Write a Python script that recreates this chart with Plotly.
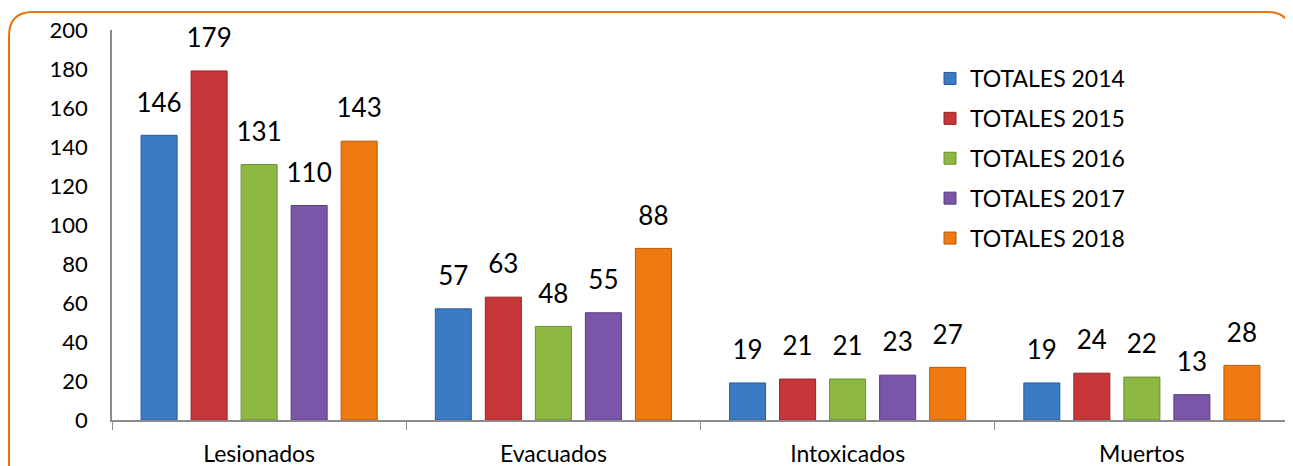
import plotly.graph_objects as go

categorias = ['Lesionados', 'Evacuados', 'Intoxicados', 'Muertos']
series = ['TOTALES 2014', 'TOTALES 2015', 'TOTALES 2016', 'TOTALES 2017', 'TOTALES 2018']
totales_2014 = [146, 57, 19, 19]
totales_2015 = [179, 63, 21, 24]
totales_2016 = [131, 48, 21, 22]
totales_2017 = [110, 55, 23, 13]
totales_2018 = [143, 88, 27, 28]
valores = [totales_2014, totales_2015, totales_2016, totales_2017, totales_2018]

colores = ['#3B7BC6', '#C7373A', '#8DB842', '#7A55A8', '#F07A12']
bordes = ['#2A5C96', '#922628', '#6A8E2E', '#5A3D80', '#B85A08']

# the page puts the figure 8px from the top-left corner, so work in shifted pixels
OFF = 8
W, H = 1293 - OFF, 466 - OFF
L, R, T, B = 112 - OFF, 4, 30 - OFF, 46
PW, PH = W - L - R, H - T - B


def xp(px):
    return (px - OFF - L) / PW


def yp(py):
    return (H - B - (py - OFF)) / PH


fig = go.Figure()
for i, nombre in enumerate(series):
    fig.add_trace(go.Bar(
        x=categorias,
        y=valores[i],
        name=nombre,
        legendgroup=nombre,
        offsetgroup=str(i),
        marker=dict(color=colores[i], line=dict(color=bordes[i], width=1)),
    ))
# etiquetas de valor, agrupadas igual que las barras
for i, nombre in enumerate(series):
    fig.add_trace(go.Scatter(
        x=categorias,
        y=valores[i],
        mode='markers+text',
        text=valores[i],
        textposition='top center',
        textfont=dict(size=26, color='black'),
        marker=dict(size=26, opacity=0),
        offsetgroup=str(i),
        showlegend=False,
        hoverinfo='skip',
        cliponaxis=False,
    ))

# marco naranja redondeado
x0, x1, y0, y1, r = 9, 1291, 12, 490, 24
borde = (f'M {xp(x0)},{yp(y1)} L {xp(x0)},{yp(y0 + r)} '
         f'Q {xp(x0)},{yp(y0)} {xp(x0 + r)},{yp(y0)} '
         f'L {xp(x1 - r)},{yp(y0)} '
         f'Q {xp(x1)},{yp(y0)} {xp(x1)},{yp(y0 + r)} '
         f'L {xp(x1)},{yp(y1)}')

fig.update_layout(
    width=W, height=H,
    margin=dict(l=L, r=R, t=T, b=B),
    paper_bgcolor='white',
    plot_bgcolor='white',
    font=dict(family='Lato, Carlito, sans-serif', color='black', size=22),
    barmode='group',
    bargap=0.15,
    bargroupgap=0.28,
    scattermode='group',
    scattergap=0.15,
    showlegend=True,
    legend=dict(
        x=xp(930), y=yp(57), xanchor='left', yanchor='top',
        font=dict(size=23), tracegroupgap=7, itemwidth=30,
        bgcolor='rgba(0,0,0,0)',
    ),
    shapes=[dict(type='path', xref='paper', yref='paper', path=borde,
                 line=dict(color='#E8720C', width=2), layer='above')],
    xaxis=dict(
        showline=True, linecolor='#8C8C8C', linewidth=1.5,
        ticks='outside', tickson='boundaries', ticklen=8, tickcolor='#8C8C8C',
        tickfont=dict(size=23), ticklabelstandoff=13,
        showgrid=False, automargin=False,
    ),
    yaxis=dict(
        range=[0, 200], dtick=20,
        showline=True, linecolor='#8C8C8C', linewidth=1.5,
        ticks='', showgrid=False, zeroline=False,
        tickfont=dict(size=22), ticklabelstandoff=18, automargin=False,
    ),
)

fig.write_html('out.html')
